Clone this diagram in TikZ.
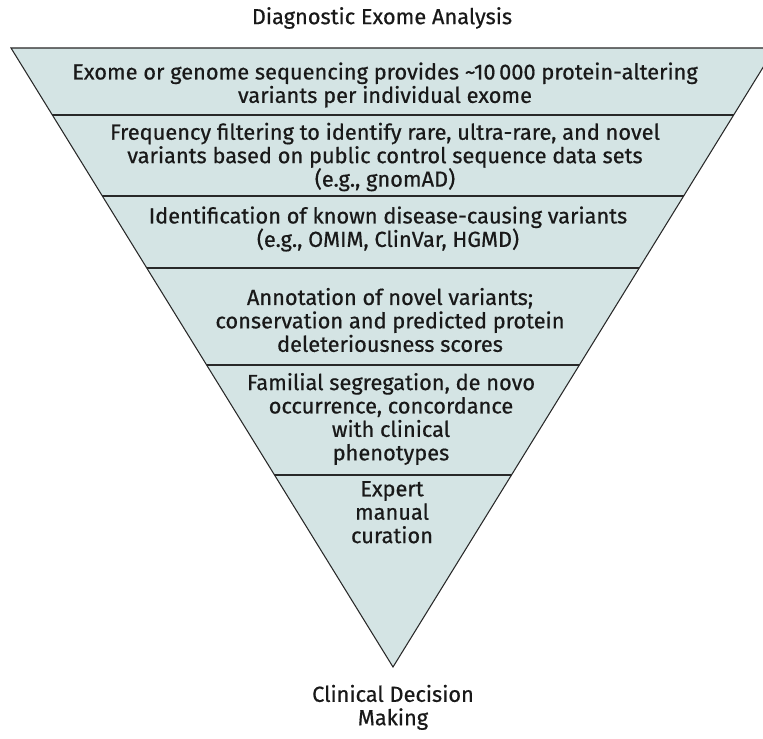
\documentclass[tikz,border=0pt]{standalone}
\usepackage{fontspec}
\setmainfont{Fira Sans}[FakeBold=0.6]
\usetikzlibrary{positioning}
\definecolor{funnelfill}{RGB}{212,228,228}
\definecolor{funnelline}{RGB}{40,40,40}

\begin{document}
\begin{tikzpicture}[x=0.03cm,y=-0.03cm,
    font=\fontsize{18.6}{20}\selectfont,
    stage/.style={align=center, text=black!90, inner sep=0pt},
    border/.style={funnelline, line width=0.9pt}]

\useasboundingbox (0,0) rectangle (763,739);

% Funnel corners
\coordinate (tl) at (11,48);
\coordinate (tr) at (775,48);
\coordinate (apex) at (393,667);

\fill[funnelfill] (tl) -- (tr) -- (apex) -- cycle;

% Stage borders
\begin{scope}
\clip (tl) -- (tr) -- (apex) -- cycle;
\foreach \y in {115,196,268,365,475}
    \draw[border] (0,\y) -- (800,\y);
\end{scope}
\draw[border, line join=miter] (tl) -- (tr) -- (apex) -- cycle;

% Title
\node[stage] (title) at (382,18) {Diagnostic Exome Analysis};

% Stages
\node[stage] (seq) at (385,85)
    {Exome or genome sequencing provides \textasciitilde10\,000 protein-altering\\
     variants per individual exome};

\node[stage] (freq) at (385,157)
    {Frequency filtering to identify rare, ultra-rare, and novel\\
     variants based on public control sequence data sets\\
     (e.g., gnomAD)};

\node[stage] (known) at (388,229)
    {Identification of known disease-causing variants\\
     (e.g., OMIM, ClinVar, HGMD)};

\node[stage] (annot) at (390,320)
    {Annotation of novel variants;\\
     conservation and predicted protein\\
     deleteriousness scores};

\node[stage] (famil) at (391,419)
    {Familial segregation, de novo\\
     occurrence, concordance\\
     with clinical\\
     phenotypes};

\node[stage, anchor=north] (expert) at (392,481)
    {Expert\\
     manual\\
     curation};

% Outcome
\node[stage, below=15pt of apex] (decision)
    {Clinical Decision\\
     Making};

\end{tikzpicture}
\end{document}
